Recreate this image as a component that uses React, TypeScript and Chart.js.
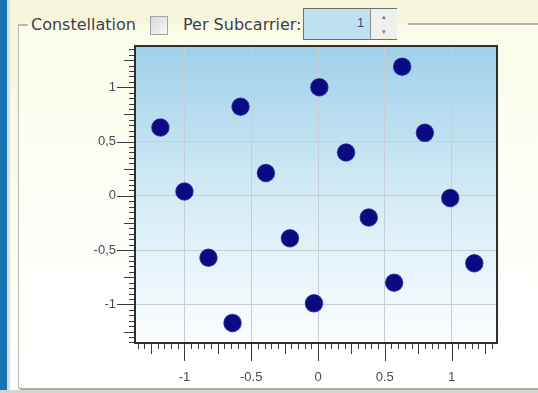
import React, { useEffect, useRef } from "react";
import { Chart, registerables } from "chart.js";

Chart.register(...registerables);

// Constellation symbol centres (I / Q)
const symbolI = [-1.18, -0.58, 0.01, 0.63, -1.0, -0.39, 0.21, 0.8, -0.82, -0.21, 0.38, 0.99, -0.64, -0.03, 0.57, 1.17];
const symbolQ = [0.63, 0.82, 1.0, 1.19, 0.04, 0.21, 0.4, 0.58, -0.57, -0.39, -0.2, -0.02, -1.17, -0.99, -0.8, -0.62];

const xTickValues = [-1, -0.5, 0, 0.5, 1];
const xTickLabels = ["-1", "-0.5", "0", "0.5", "1"];
const yTickValues = [-1, -0.5, 0, 0.5, 1];
const yTickLabels = ["-1", "-0,5", "0", "0,5", "1"];
const xRange = [-1.37, 1.34];
const yRange = [-1.355, 1.38];

const FONT = "'Liberation Sans', Arial, sans-serif";
const HEAD_FONT = "'DejaVu Sans', Verdana, sans-serif";

export default function App() {
  const ref = useRef<HTMLCanvasElement>(null);

  useEffect(() => {
    document.body.style.margin = "0";
    const canvas = ref.current!;
    const bgPlugin = {
      id: "plotBg",
      beforeDraw(chart: any) {
        const { ctx, chartArea: a } = chart;
        const g = ctx.createLinearGradient(0, a.top, 0, a.bottom);
        g.addColorStop(0, "#9fd0e9");
        g.addColorStop(0.5, "#d4ebf6");
        g.addColorStop(1, "#fbfdff");
        ctx.save();
        ctx.fillStyle = g;
        ctx.fillRect(a.left, a.top, a.right - a.left, a.bottom - a.top);
        ctx.restore();
      },
      afterDraw(chart: any) {
        const { ctx, chartArea: a } = chart;
        const xs = chart.scales.x;
        const ys = chart.scales.y;
        ctx.save();
        ctx.strokeStyle = "#3a3a3a";
        ctx.lineWidth = 1;
        ctx.beginPath();
        for (let k = Math.ceil(xRange[0] / 0.05); k <= Math.floor(xRange[1] / 0.05); k++) {
          const px = Math.round(xs.getPixelForValue(k * 0.05)) + 0.5;
          const len = k % 10 === 0 ? 18 : k % 5 === 0 ? 11 : 6;
          ctx.moveTo(px, a.bottom);
          ctx.lineTo(px, a.bottom + len);
        }
        for (let k = Math.ceil(yRange[0] / 0.05); k <= Math.floor(yRange[1] / 0.05); k++) {
          const py = Math.round(ys.getPixelForValue(k * 0.05)) + 0.5;
          const len = k % 10 === 0 ? 18 : k % 5 === 0 ? 11 : 6;
          ctx.moveTo(a.left, py);
          ctx.lineTo(a.left - len, py);
        }
        ctx.stroke();
        ctx.strokeStyle = "#2e2e2e";
        ctx.lineWidth = 2;
        ctx.strokeRect(a.left, a.top, a.right - a.left, a.bottom - a.top);
        ctx.restore();
      },
    };

    const chart = new Chart(canvas, {
      type: "scatter",
      data: {
        datasets: [
          {
            data: symbolI.map((x, i) => ({ x, y: symbolQ[i] })),
            backgroundColor: "#0a0a82",
            borderColor: "rgba(16,16,136,0.75)",
            borderWidth: 1.5,
            pointRadius: 8.5,
            pointHoverRadius: 8.5,
          },
        ],
      },
      options: {
        animation: false,
        responsive: false,
        events: [],
        layout: { padding: { left: 0, top: 46, right: 41, bottom: 0 } },
        plugins: { legend: { display: false }, tooltip: { enabled: false } },
        scales: {
          x: {
            type: "linear",
            min: xRange[0],
            max: xRange[1],
            afterFit(scale: any) {
              scale.height = 50;
            },
            afterBuildTicks(scale: any) {
              scale.ticks = xTickValues.map((v) => ({ value: v }));
            },
            grid: { color: "#c5ced6", lineWidth: 1, drawTicks: false },
            border: { display: false },
            ticks: {
              padding: 27,
              color: "#4a4a58",
              font: { family: FONT, size: 13 },
              autoSkip: false,
              maxRotation: 0,
              callback: (_v: any, i: number) => xTickLabels[i],
            },
          },
          y: {
            type: "linear",
            min: yRange[0],
            max: yRange[1],
            afterFit(scale: any) {
              scale.width = 135;
            },
            afterBuildTicks(scale: any) {
              scale.ticks = yTickValues.map((v) => ({ value: v }));
            },
            grid: { color: "#c5ced6", lineWidth: 1, drawTicks: false },
            border: { display: false },
            ticks: {
              padding: 19,
              color: "#4a4a58",
              font: { family: FONT, size: 13 },
              autoSkip: false,
              callback: (_v: any, i: number) => yTickLabels[i],
            },
          },
        },
      },
      plugins: [bgPlugin],
    });
    return () => chart.destroy();
  }, []);

  return (
    <div
      style={{
        position: "fixed",
        left: 0,
        top: 0,
        width: 538,
        height: 393,
        overflow: "hidden",
        background: "linear-gradient(#f6f5da, #fbfbec 50%, #fefefd)",
        fontFamily: FONT,
      }}
    >
      <div style={{ position: "absolute", left: 0, top: 0, width: 7, height: 393, background: "#1a74b2" }} />
      <div style={{ position: "absolute", left: 7, top: 0, width: 3, height: 393, background: "#cfe2ea" }} />
      {/* group box */}
      <div
        style={{
          position: "absolute",
          left: 18,
          top: 24,
          width: 560,
          height: 364,
          borderLeft: "1.5px solid #b9b9b0",
          borderBottom: "2px solid #a9a9a6",
          borderBottomLeftRadius: 4,
          background: "linear-gradient(#fbfbe8, #fefefb 60%, #ffffff)",
        }}
      />
      <div style={{ position: "absolute", left: 0, top: 390, width: 538, height: 3, background: "#d4d4d0" }} />
      <div style={{ position: "absolute", left: 18, top: 24, width: 10, height: 1.5, background: "#b9b9b0" }} />
      <div style={{ position: "absolute", left: 408, top: 23, width: 140, height: 2, background: "#b4b4b0" }} />
      <div
        style={{
          position: "absolute",
          left: 31,
          top: 15,
          fontFamily: HEAD_FONT,
          fontSize: 16,
          color: "#3e3e4a",
          whiteSpace: "nowrap",
        }}
      >
        Constellation
      </div>
      <div
        style={{
          position: "absolute",
          left: 150,
          top: 16,
          width: 16,
          height: 17,
          border: "1px solid #a4a4a4",
          background: "linear-gradient(135deg, #d8d8d8, #f8f8f8)",
        }}
      />
      <div
        style={{
          position: "absolute",
          left: 183,
          top: 15,
          fontFamily: HEAD_FONT,
          fontSize: 16,
          color: "#3e3e4a",
          whiteSpace: "nowrap",
        }}
      >
        Per Subcarrier:
      </div>
      {/* spin box */}
      <div
        style={{
          position: "absolute",
          left: 303,
          top: 8,
          width: 92,
          height: 30,
          border: "1.5px solid #6a7070",
          background: "#bfe0f0",
        }}
      >
        <div style={{ position: "absolute", left: 53, top: 6, fontSize: 13, color: "#3a4a8a" }}>1</div>
        <div
          style={{
            position: "absolute",
            left: 66,
            top: 0,
            width: 26,
            height: 15,
            borderLeft: "1px solid #8a9090",
            borderBottom: "1px solid #8a9090",
            background: "#eef0ee",
            fontSize: 7,
            textAlign: "center",
            lineHeight: "15px",
            color: "#777",
          }}
        >
          ▴
        </div>
        <div
          style={{
            position: "absolute",
            left: 66,
            top: 15,
            width: 26,
            height: 15,
            borderLeft: "1px solid #8a9090",
            background: "#eef0ee",
            fontSize: 7,
            textAlign: "center",
            lineHeight: "15px",
            color: "#777",
          }}
        >
          ▾
        </div>
      </div>
      <canvas ref={ref} width={538} height={393} style={{ position: "absolute", left: 0, top: 0 }} />
    </div>
  );
}
